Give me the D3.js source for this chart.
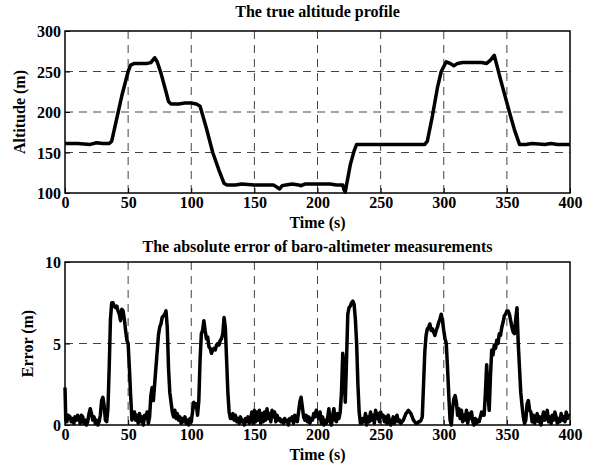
<!DOCTYPE html>
<html><head><meta charset="utf-8">
<script src="https://cdn.jsdelivr.net/npm/d3@7"></script>
<style>
html,body{margin:0;padding:0;background:#fff;}
svg text{font-family:"Liberation Serif","Times New Roman",serif;font-weight:bold;fill:#000;}
</style></head>
<body><svg id="c" width="602" height="466"></svg>
<script>
// ---------- data ----------
const altTime = [0,10,20,25,30,35,37,40,45,50,52,55,60,65,68,71,73,76,80,82,84,90,95,100,104,107,112,117,122,126,128,130,135,140,150,160,165,168,170,172,175,180,185,187,190,200,210,215,220,221,222,223,226,229,231,235,250,260,270,280,285,287,291,295,298,302,305,308,311,315,320,330,334,337,340,345,352,356,360,365,370,380,385,390,400];
const altValue = [161,161,160,162,161,161,164,185,220,250,258,260,260,260,261,267,262,248,225,213,210,210,211,211,210,207,180,150,128,112,110,110,110,111,110,110,110,107,105,109,110,111,110,109,111,111,111,110,110,104,101,110,135,152,160,160,160,160,160,160,160,164,195,230,250,262,260,257,260,261,261,261,260,264,270,240,200,178,160,160,161,160,161,160,160];

const errTime = [0,0.6,1.5,2.5,4,5,6,7,8,9,10,11,12,13,14,15,16,17,18,19,20,21,22,23,24,25,26,27,28,29,30,31,32,33,34,35,36,37,38,39,40,41,42,43,44,45,46,47,48,49,50,51,52,53,54,55,56,57,58,59,60,61,62,63,64,65,66,67,68,69,70,71,72,73,74,75,76,77,78,79,80,81,82,83,84,85,86,87,88,89,90,91,92,93,94,95,96,97,98,99,100,101,102,103,104,105,106,107,108,109,110,111,112,113,114,115,116,117,118,119,120,121,122,123,124,125,126,127,128,129,130,131,132,133,134,135,136,137,138,139,140,141,142,143,144,145,146,147,148,149,150,151,152,153,154,155,156,157,158,159,160,161,162,163,164,165,166,167,168,169,170,171,172,173,174,175,176,177,178,179,180,181,182,183,184,185,186,187,188,189,190,191,192,193,194,195,196,197,198,199,200,201,202,203,204,205,206,207,208,209,210,211,212,213,214,215,216,217,218,219,220,221,222,223,224,225,226,227,228,229,230,231,232,233,234,235,236,237,238,239,240,241,242,243,244,245,246,247,248,249,250,251,252,253,254,255,256,257,258,259,260,261,262,263,264,265,266,267,268,269,270,271,272,273,274,275,276,277,278,279,280,281,282,283,284,285,286,287,288,289,290,291,292,293,294,295,296,297,298,299,300,301,302,303,304,305,306,307,308,309,310,311,312,313,314,315,316,317,318,319,320,321,322,323,324,325,326,327,328,329,330,331,332,333,334,335,336,337,338,339,340,341,342,343,344,345,346,347,348,349,350,351,352,353,354,355,356,357,358,359,360,361,362,363,364,365,366,367,368,369,370,371,372,373,374,375,376,377,378,379,380,381,382,383,384,385,386,387,388,389,390,391,392,393,394,395,396,397,398,399,400];
const errValue = [2.3,0.3,0.2,0.6,0.5,0.2,0.4,0.1,0.5,0.3,0.6,0.4,0.1,0.6,0.5,0.1,0.3,0.0,0.2,0.7,1.0,0.7,0.3,0.5,0.1,0.3,0.0,0.2,0.6,1.5,1.7,1.2,0.3,0.2,1.0,3.5,6.5,7.5,7.5,7.3,7.2,7.3,7.0,6.8,6.4,7.1,7.0,6.5,5.8,5.2,5.0,3.5,1.8,0.3,0.6,0.8,0.3,0.6,0.1,0.7,0.2,0.5,0.0,0.6,0.4,0.8,0.1,0.5,1.8,2.3,1.5,2.5,3.5,4.5,5.5,6.0,6.2,6.6,6.7,6.8,7.0,6.0,3.5,2.0,1.4,0.8,0.5,0.9,0.4,0.7,0.3,0.5,0.1,0.4,0.2,0.5,0.1,0.3,0.0,0.4,0.2,0.8,1.4,1.1,1.3,0.6,1.5,4.0,5.6,5.8,6.4,5.8,5.3,5.4,4.8,4.7,4.4,4.6,4.7,4.6,4.9,5.0,4.9,5.2,5.3,5.6,6.6,6.0,4.0,2.0,0.8,0.4,0.4,0.7,0.3,0.6,0.2,0.4,0.1,0.5,0.2,0.3,0.0,0.4,0.2,0.5,0.1,0.3,0.8,0.1,0.9,0.2,0.8,0.3,0.9,0.1,0.7,0.2,0.8,0.3,1.0,0.4,0.7,0.2,0.9,0.5,0.8,0.2,0.6,0.3,0.4,0.2,0.3,0.1,0.4,0.2,0.3,0.0,0.4,0.3,0.5,0.1,0.6,0.3,0.2,0.8,1.4,1.7,1.1,0.5,0.3,0.6,0.2,0.5,0.1,0.4,0.3,0.7,0.5,0.9,0.6,0.4,0.8,0.1,0.5,0.0,0.3,0.1,0.4,1.0,0.2,0.0,0.6,1.0,0.3,0.2,0.7,0.4,0.8,2.0,4.4,3.5,1.4,4.0,6.8,7.2,7.3,7.5,7.6,7.4,6.5,5.0,2.5,0.8,0.1,0.1,0.4,0.2,0.7,0.0,0.5,0.2,0.8,0.3,0.6,0.1,0.9,0.4,0.7,0.2,0.8,0.5,0.6,0.2,0.5,0.1,0.6,0.3,0.0,0.2,0.5,0.1,0.4,0.6,0.2,0.3,0.1,0.2,0.3,0.5,0.7,0.8,0.9,0.8,0.7,0.5,0.3,0.2,0.1,0.1,0.2,0.2,0.3,0.5,2.5,4.5,5.5,5.9,6.0,6.2,5.8,5.9,5.7,5.5,5.8,6.0,6.3,6.5,6.8,6.4,5.8,5.3,5.0,3.5,1.8,0.3,0.0,1.0,1.6,1.8,1.4,0.6,1.0,0.4,0.9,0.2,0.6,0.3,0.9,0.1,0.7,0.4,0.8,0.2,0.0,0.4,0.1,0.3,0.2,0.5,0.8,0.6,0.6,2.0,3.7,2.0,0.9,3.0,4.6,4.3,4.9,4.7,5.2,5.0,5.6,5.5,6.0,6.3,6.7,6.8,7.0,7.0,6.8,6.4,6.0,5.7,5.6,6.5,7.2,5.0,3.5,2.0,1.2,0.5,0.1,0.3,1.3,1.5,0.9,0.8,0.2,0.6,0.1,0.4,0.7,0.2,0.5,0.0,0.4,0.8,0.3,0.6,0.9,0.2,0.5,0.1,0.6,0.3,0.8,0.5,0.1,0.4,0.2,0.7,0.3,0.5,0.2,0.8,0.4,0.7];

const xTicks = [0,50,100,150,200,250,300,350,400];
const altTicks = [100,150,200,250,300];
const errTicks = [0,5,10];
const titles = ["The true altitude profile","The absolute error of baro-altimeter measurements"];
const xLabel = "Time (s)";
const yLabels = ["Altitude (m)","Error (m)"];

// ---------- drawing ----------
const svg = d3.select("#c");
const left = 65, right = 570;
const x = d3.scaleLinear().domain([0,400]).range([left,right]);

function panel(top, bottom, ydom, yticks, tt, titleGap, yl, tv, vv, ylx) {
  const y = d3.scaleLinear().domain(ydom).range([bottom, top]);
  const g = svg.append("g");
  // grid
  g.selectAll(".vg").data(xTicks.slice(1,-1)).enter().append("line")
    .attr("x1",d=>x(d)).attr("x2",d=>x(d)).attr("y1",top).attr("y2",bottom)
    .attr("stroke","#444").attr("stroke-width",1).attr("stroke-dasharray","8,6");
  g.selectAll(".hg").data(yticks.slice(1,-1)).enter().append("line")
    .attr("y1",d=>y(d)).attr("y2",d=>y(d)).attr("x1",left).attr("x2",right)
    .attr("stroke","#444").attr("stroke-width",1).attr("stroke-dasharray","8,6");
  // axes
  const xa = g.append("g").attr("transform",`translate(0,${bottom})`)
    .call(d3.axisBottom(x).tickValues(xTicks).tickSize(-5).tickPadding(4).tickFormat(d3.format("d")));
  const ya = g.append("g").attr("transform",`translate(${left},0)`)
    .call(d3.axisLeft(y).tickValues(yticks).tickSize(-5).tickPadding(4).tickFormat(d3.format("d")));
  [xa,ya].forEach(a=>{
    a.select(".domain").remove();
    a.selectAll("line").attr("stroke","#000").attr("stroke-width",1);
    a.selectAll("text").style("font-size","16px").attr("fill","#000");
  });
  ya.selectAll("text").attr("dy","0.35em");
  // box
  g.append("rect").attr("x",left).attr("y",top).attr("width",right-left).attr("height",bottom-top)
    .attr("fill","none").attr("stroke","#000").attr("stroke-width",1.5);
  // line
  const data = tv.map((t,i)=>[t,vv[i]]);
  g.append("path").datum(data)
    .attr("d",d3.line().x(d=>x(d[0])).y(d=>y(d[1])))
    .attr("fill","none").attr("stroke","#000").attr("stroke-width",3.5).attr("stroke-linejoin","round");
  // labels
  g.append("text").attr("x",(left+right)/2).attr("y",top-titleGap).attr("text-anchor","middle")
    .style("font-size","16px").text(tt);
  g.append("text").attr("x",(left+right)/2).attr("y",bottom+35).attr("text-anchor","middle")
    .style("font-size","16px").text(xLabel);
  g.append("text").attr("transform",`translate(${ylx},${(top+bottom)/2}) rotate(-90)`)
    .attr("text-anchor","middle").style("font-size","16px").text(yl);
}

panel(31,193,[100,300],altTicks,titles[0],14,yLabels[0],altTime,altValue,25);
panel(262,425,[0,10],errTicks,titles[1],10,yLabels[1],errTime,errValue,33);
</script></body></html>
